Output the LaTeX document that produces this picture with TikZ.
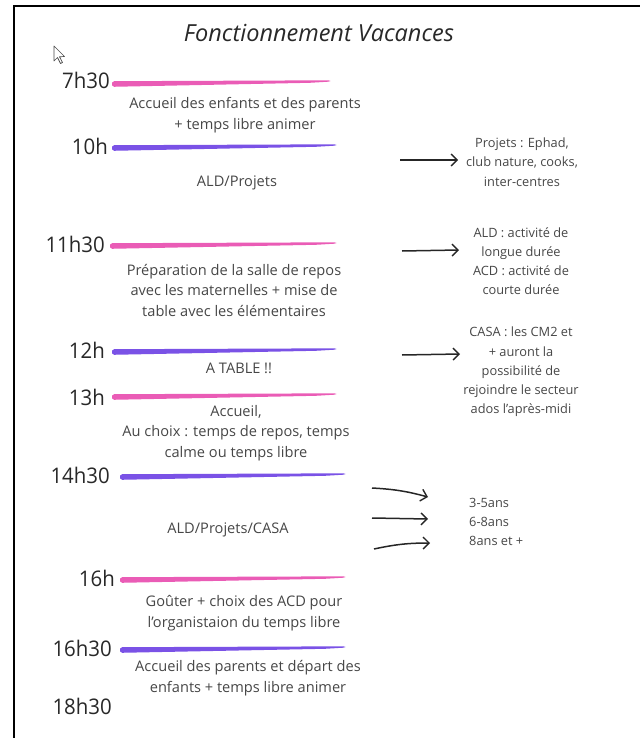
\documentclass[tikz,border=0pt]{standalone}
\usepackage{fontspec}
\setmainfont{Open Sans}
\newfontfamily\timefont[FakeStretch=0.95]{Open Sans}
\usetikzlibrary{arrows.meta}
\definecolor{brushpink}{RGB}{234,92,182}
\definecolor{brushpurple}{RGB}{122,82,230}
\definecolor{txt}{RGB}{70,70,70}
\definecolor{timetxt}{RGB}{40,40,40}
\newcommand\brushline[4]{%
  \fill[#4, rounded corners=1.2pt] ({#1},{#3-2.8}) -- ({#2-20},{#3-3.6}) -- ({#2},{#3-3.6}) -- ({#2},{#3-2.4}) -- ({#2-20},{#3-1.2}) -- ({#1},{#3+2.8}) -- ({#1-1.5},{#3}) -- cycle;}
\tikzset{
  timelbl/.style={anchor=east, inner sep=0pt, text=timetxt, font=\timefont\fontsize{21.5}{24}\selectfont},
  bodytxt/.style={align=center, inner sep=0pt, text=txt, font=\fontsize{14.6}{20.5}\selectfont},
  sidetxt/.style={align=center, inner sep=0pt, text=txt, font=\fontsize{12.8}{19.2}\selectfont},
  arr/.style={-{Straight Barb[length=6pt,width=12pt,line width=1.4pt]}, line width=1.5pt, black!85},
  frame/.style={line width=2pt, black}
}
\begin{document}
\begin{tikzpicture}[x=1pt,y=-1pt]
\useasboundingbox (0,0) rectangle (640,738);
% frame
\draw[frame] (14,738) -- (14,6) -- (640,6);
% mouse pointer
\draw[line width=0.7pt, black!70, fill=white, line join=round]
  (54,46) -- (54,61) -- (57.5,57.5) -- (60.5,63.5) -- (62.5,62.5) -- (59.5,56.8) -- (64.5,56.5) -- cycle;
% title
\node[text=timetxt, font=\itshape\fontsize{23.5}{26}\selectfont] (title) at (319,33) {Fonctionnement Vacances};

% time labels
\node[timelbl] (t0730) at (110,80) {7h30};
\node[timelbl] (t1000) at (108,146) {10h};
\node[timelbl] (t1130) at (105,244) {11h30};
\node[timelbl] (t1200) at (105,350) {12h};
\node[timelbl] (t1300) at (105,397) {13h};
\node[timelbl] (t1430) at (110,475) {14h30};
\node[timelbl] (t1600) at (115,578) {16h};
\node[timelbl] (t1630) at (112,648) {16h30};
\node[timelbl] (t1830) at (112,706) {18h30};

% brush strokes
\brushline{113}{330}{84}{brushpink}
\brushline{113}{336}{148}{brushpurple}
\brushline{111}{336}{246}{brushpink}
\brushline{113}{336}{352}{brushpurple}
\brushline{113}{336}{397}{brushpink}
\brushline{121}{345}{477}{brushpurple}
\brushline{121}{345}{580}{brushpink}
\brushline{121}{345}{650}{brushpurple}

% body texts
\node[bodytxt] (acc1) at (245,115) {Accueil des enfants et des parents\\+ temps libre animer};
\node[bodytxt] (ald1) at (237,183) {ALD/Projets};
\node[bodytxt] (prep) at (234,290) {Préparation de la salle de repos\\avec les maternelles + mise de\\table avec les élémentaires};
\node[bodytxt] (atable) at (239,368) {A TABLE !!};
\node[bodytxt] (acc2) at (236,433) {Accueil,\\Au choix : temps de repos, temps\\calme ou temps libre};
\node[bodytxt] (ald2) at (228,530) {ALD/Projets/CASA};
\node[bodytxt] (gouter) at (244,613) {Goûter + choix des ACD pour\\l'organistaion du temps libre};
\node[bodytxt] (acc3) at (248,678) {Accueil des parents et départ des\\enfants + temps libre animer};

% side notes
\node[sidetxt] (proj) at (522,162) {Projets : Ephad,\\club nature, cooks,\\inter-centres};
\node[sidetxt] (ald) at (521,261) {ALD : activité de\\longue durée\\ACD : activité de\\courte durée};
\node[sidetxt] (casa) at (521,372) {CASA : les CM2 et\\+ auront la\\possibilité de\\rejoindre le secteur\\ados l'après-midi};
\node[sidetxt, align=left, anchor=west] (ages) at (469,522) {3-5ans\\6-8ans\\8ans et +};

% arrows
\coordinate (a1s) at (400,160); \coordinate (a1e) at (458,160);
\coordinate (a2s) at (402,251); \coordinate (a2e) at (459,250);
\coordinate (a3s) at (402,355); \coordinate (a3e) at (460,354);
\coordinate (b1s) at (372,488); \coordinate (b1e) at (428,497);
\coordinate (b2s) at (372,518); \coordinate (b2e) at (428,519);
\coordinate (b3s) at (374,549); \coordinate (b3e) at (430,543);
\draw[arr] (a1s) -- (a1e);
\draw[arr] (a2s) -- (a2e);
\draw[arr] (a3s) -- (a3e);
\draw[arr] (b1s) to[bend left=6] (b1e);
\draw[arr] (b2s) -- (b2e);
\draw[arr] (b3s) to[bend left=6] (b3e);
\end{tikzpicture}
\end{document}
